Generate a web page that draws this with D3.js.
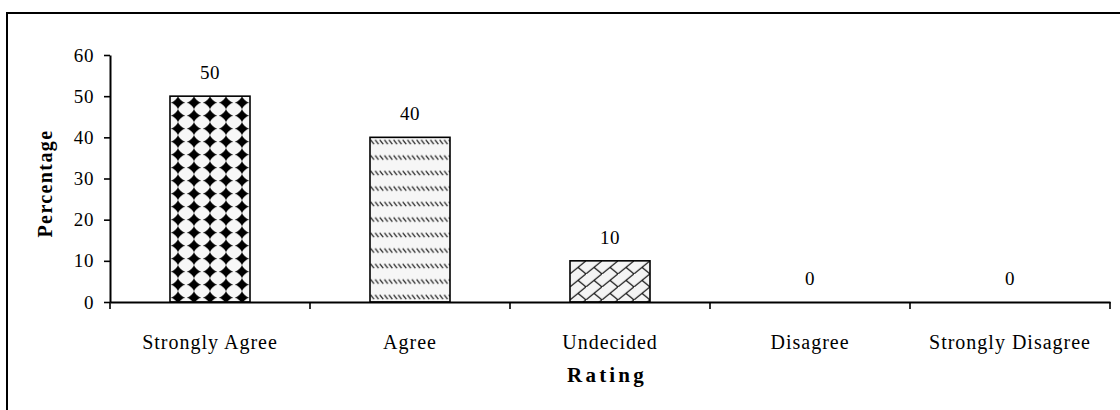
<!DOCTYPE html>
<html>
<head>
<meta charset="utf-8">
<script src="https://cdn.jsdelivr.net/npm/d3@7"></script>
<style>
  html, body { margin: 0; padding: 0; background: #fff; }
  svg { display: block; }
  text { font-family: "Liberation Serif", "Times New Roman", serif; fill: #000; }
</style>
</head>
<body>
<svg id="chart" width="1120" height="410"></svg>
<script>
// Survey responses by rating
const categories = ["Strongly Agree", "Agree", "Undecided", "Disagree", "Strongly Disagree"];
const percentages = [50, 40, 10, 0, 0];
const yTicks = [0, 10, 20, 30, 40, 50, 60];
const fills = ["url(#diamonds)", "url(#dashes)", "url(#bricks)", "#fff", "#fff"];

const svg = d3.select("#chart");
const margin = { left: 110, right: 10, top: 55, bottom: 108 };
const W = 1120, H = 410;

const x = d3.scaleBand()
  .domain(categories)
  .range([margin.left, W - margin.right])
  .paddingInner(0.6)
  .paddingOuter(0.3);

const y = d3.scaleLinear()
  .domain([0, 60])
  .range([H - margin.bottom, margin.top]);

// Frame around the chart area
svg.append("rect")
  .attr("x", 7).attr("y", 13)
  .attr("width", 1300).attr("height", 600)
  .attr("fill", "none").attr("stroke", "#000").attr("stroke-width", 2);

// Fill patterns
const defs = svg.append("defs");

const dia = defs.append("pattern")
  .attr("id", "diamonds")
  .attr("patternUnits", "userSpaceOnUse")
  .attr("x", x(categories[0])).attr("y", y(percentages[0]))
  .attr("width", 16).attr("height", 13);
dia.append("rect").attr("width", 16).attr("height", 13).attr("fill", "#f7f7f7");
dia.append("path")
  .attr("d", "M8,-0.2 Q9.2,4.8 15.2,6.5 Q9.2,8.2 8,13.2 Q6.8,8.2 0.8,6.5 Q6.8,4.8 8,-0.2 Z")
  .attr("fill", "#000");
dia.append("path")
  .attr("d", "M8,1.2 L13.4,6.5 L8,11.8 L2.6,6.5 Z")
  .attr("fill", "#000");

const dash = defs.append("pattern")
  .attr("id", "dashes")
  .attr("patternUnits", "userSpaceOnUse")
  .attr("x", x(categories[1])).attr("y", y(percentages[1]))
  .attr("width", 4.6).attr("height", 15.5);
dash.append("rect").attr("width", 4.6).attr("height", 15.5).attr("fill", "#f6f6f6");
dash.append("line")
  .attr("x1", 0.6).attr("y1", 2.5).attr("x2", 4).attr("y2", 7)
  .attr("stroke", "#222").attr("stroke-width", 1.2);

const brick = defs.append("pattern")
  .attr("id", "bricks")
  .attr("patternUnits", "userSpaceOnUse")
  .attr("x", x(categories[2])).attr("y", y(percentages[2]))
  .attr("width", 16).attr("height", 13);
brick.append("rect").attr("width", 16).attr("height", 13).attr("fill", "#f4f4f4");
brick.append("path")
  .attr("d", "M-1,13.8 L17,-0.8 M8,6.5 L16,13")
  .attr("stroke", "#1a1a1a").attr("stroke-width", 1.3).attr("fill", "none");

// Bars
svg.append("g").selectAll("rect")
  .data(categories)
  .join("rect")
  .attr("x", d => x(d))
  .attr("y", (d, i) => y(percentages[i]))
  .attr("width", x.bandwidth())
  .attr("height", (d, i) => y(0) - y(percentages[i]))
  .attr("fill", (d, i) => fills[i])
  .attr("stroke", "#000")
  .attr("stroke-width", (d, i) => percentages[i] > 0 ? 1.6 : 0);

// Value labels
svg.append("g").selectAll("text")
  .data(categories)
  .join("text")
  .attr("x", d => x(d) + x.bandwidth() / 2)
  .attr("y", (d, i) => y(percentages[i]) - 17)
  .attr("text-anchor", "middle")
  .style("font-size", "19px")
  .style("letter-spacing", "0.6px")
  .text((d, i) => percentages[i]);

// Y axis
const yAxis = svg.append("g")
  .attr("transform", `translate(${margin.left},0)`)
  .call(d3.axisLeft(y).tickValues(yTicks).tickSize(6).tickSizeOuter(0).tickPadding(10));
yAxis.select(".domain").attr("stroke", "#000").attr("stroke-width", 2);
yAxis.selectAll(".tick line").attr("stroke", "#000").attr("stroke-width", 1.6);
yAxis.selectAll(".tick text")
  .style("font-family", "'Liberation Serif', serif")
  .style("font-size", "19px")
  .style("letter-spacing", "0.6px")
  .attr("fill", "#000");

// X axis baseline and category labels
const xAxis = svg.append("g")
  .attr("transform", `translate(0,${y(0)})`)
  .call(d3.axisBottom(x).tickSize(0).tickSizeOuter(0).tickPadding(33));
xAxis.select(".domain").attr("stroke", "#000").attr("stroke-width", 2);
xAxis.selectAll(".tick text")
  .style("font-family", "'Liberation Serif', serif")
  .style("font-size", "20px")
  .style("letter-spacing", "1px")
  .attr("fill", "#000");

// Category boundary ticks
const gap = (x.step() - x.bandwidth()) / 2;
const bounds = categories.map(d => x(d) - gap)
  .concat([x(categories[categories.length - 1]) + x.bandwidth() + gap]);
svg.append("g").selectAll("line")
  .data(bounds)
  .join("line")
  .attr("x1", d => d).attr("x2", d => d)
  .attr("y1", y(0)).attr("y2", y(0) + 7)
  .attr("stroke", "#000").attr("stroke-width", 1.6);

// Axis titles
svg.append("text")
  .attr("x", (margin.left + W - margin.right) / 2 - 3)
  .attr("y", 382)
  .attr("text-anchor", "middle")
  .style("font-size", "21px")
  .style("font-weight", "bold")
  .style("letter-spacing", "3.2px")
  .text("Rating");

svg.append("text")
  .attr("transform", `translate(52,${(y(0) + y(60)) / 2 + 5}) rotate(-90)`)
  .attr("text-anchor", "middle")
  .style("font-size", "20px")
  .style("font-weight", "bold")
  .style("letter-spacing", "1.4px")
  .text("Percentage");
</script>
</body>
</html>
